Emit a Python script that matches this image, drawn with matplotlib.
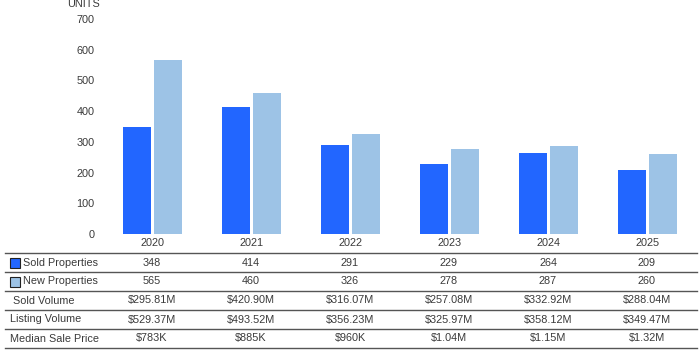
import matplotlib.pyplot as plt
from matplotlib.patches import Rectangle

plt.rcParams['font.family'] = ['Liberation Sans', 'DejaVu Sans']

# data
years = ['2020', '2021', '2022', '2023', '2024', '2025']
sold = [348, 414, 291, 229, 264, 209]
new = [565, 460, 326, 278, 287, 260]
sold_volume = ['$295.81M', '$420.90M', '$316.07M', '$257.08M', '$332.92M', '$288.04M']
listing_volume = ['$529.37M', '$493.52M', '$356.23M', '$325.97M', '$358.12M', '$349.47M']
median_price = ['$783K', '$885K', '$960K', '$1.04M', '$1.15M', '$1.32M']

sold_color = '#2266FF'
new_color = '#9DC3E6'
text_color = '#3a3a3a'
fs = 7.8

W, H = 700, 350
fig = plt.figure(figsize=(7, 3.5), dpi=100)
ax = fig.add_axes([103 / W, 1 - 234 / H, 594 / W, 215 / H])

x = list(range(len(years)))
bw = 0.285
ax.bar([i - bw / 2 - 0.015 for i in x], sold, width=bw, color=sold_color)
ax.bar([i + bw / 2 + 0.015 for i in x], new, width=bw, color=new_color)

ax.set_xlim(-0.5, len(years) - 0.5)
ax.set_ylim(0, 700)
ax.set_yticks(range(0, 701, 100))
ax.tick_params(axis='y', length=0, labelsize=fs, labelcolor=text_color, pad=6)
ax.set_xticks(x)
ax.set_xticklabels(years)
ax.tick_params(axis='x', length=0, labelsize=fs, labelcolor=text_color, pad=3)
for s in ax.spines.values():
    s.set_visible(False)

fig.text(84 / W, 1 - 4 / H, 'UNITS', fontsize=fs, color=text_color, ha='center', va='center')

# table below chart
line_ys = [253, 272, 291, 310, 329, 348]
for y in line_ys:
    fig.add_artist(plt.Line2D([5 / W, 697 / W], [1 - y / H, 1 - y / H], color='#555555', lw=1))

rows = [
    ('Sold Properties', [str(v) for v in sold], sold_color),
    ('New Properties', [str(v) for v in new], new_color),
    ('Sold Volume', sold_volume, None),
    ('Listing Volume', listing_volume, None),
    ('Median Sale Price', median_price, None),
]
centers = [152 + 99 * i for i in range(len(years))]
for r, (label, vals, col) in enumerate(rows):
    yc = 1 - (line_ys[r] + 9.5) / H
    if col is not None:
        fig.add_artist(Rectangle((10 / W, yc - 5 / H), 10 / W, 10 / H, facecolor=col,
                                 edgecolor='#222222', lw=0.8, transform=fig.transFigure))
        fig.text(23 / W, yc, label, fontsize=fs, color=text_color, va='center')
    else:
        lx = 13 if label == 'Sold Volume' else 10
        fig.text(lx / W, yc, label, fontsize=fs, color=text_color, va='center')
    for cx, v in zip(centers, vals):
        fig.text(cx / W, yc, v, fontsize=fs, color=text_color, ha='center', va='center')

fig.savefig('out.png', dpi=100)
